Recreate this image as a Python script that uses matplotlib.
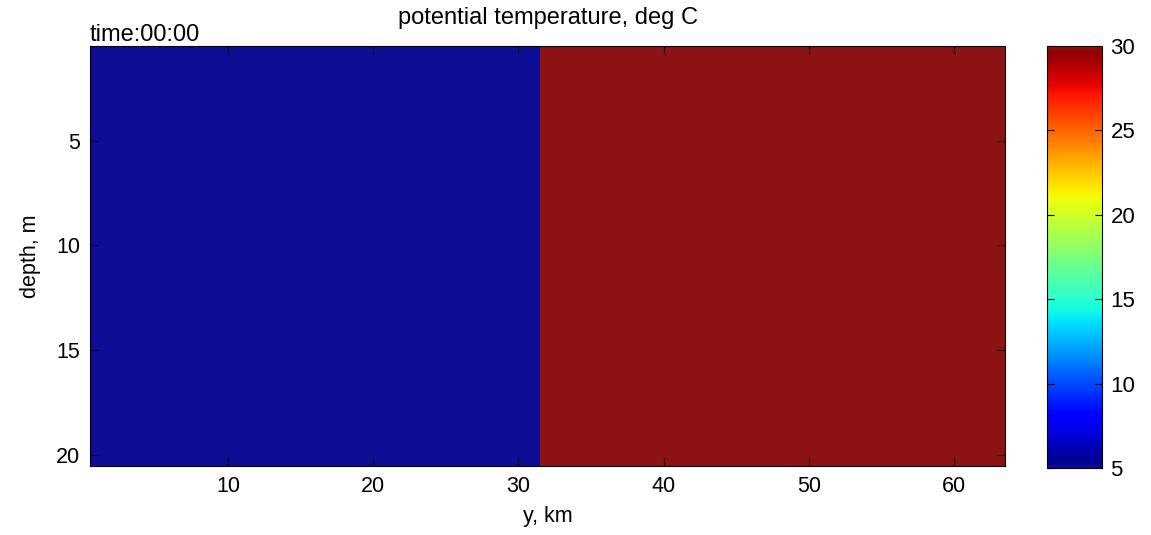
import numpy as np
import matplotlib
matplotlib.use("Agg")
from matplotlib import pyplot as plt
from matplotlib.colors import LinearSegmentedColormap

# grid and field values
y_km = np.arange(1, 64)          # 63 columns along y
depth_m = np.arange(1, 21)       # 20 levels
t_cold = 5.0
t_warm = 30.0
front_km = 31.5                  # columns left of this are cold
clim = (5, 30)

x_ticks = [10, 20, 30, 40, 50, 60]
y_ticks = [5, 10, 15, 20]
cb_ticks = [5, 10, 15, 20, 25, 30]

temp = np.where(y_km[None, :] < front_km, t_cold, t_warm) * np.ones((depth_m.size, 1))

plt.rcParams["font.family"] = ["Liberation Sans", "DejaVu Sans"]
plt.rcParams["font.size"] = 15.5

# jet as it looks in the old video frame (slightly washed out ends)
jet = plt.get_cmap("jet")(np.linspace(0, 1, 64))
jet[0, :3] = [0.05, 0.05, 0.59]
jet[-1, :3] = [0.55, 0.07, 0.08]
cmap = LinearSegmentedColormap.from_list("jet_video", jet, N=256)

fig = plt.figure(figsize=(11.51, 5.35), dpi=100)
ax = fig.add_axes([0.0782, 0.129, 0.795, 0.785])
cax = fig.add_axes([0.9097, 0.1252, 0.0478, 0.7888])

xe = np.concatenate([y_km - 0.5, [y_km[-1] + 0.5]])
ye = np.concatenate([depth_m - 0.5, [depth_m[-1] + 0.5]])
mesh = ax.pcolormesh(xe, ye, temp, cmap=cmap, vmin=clim[0], vmax=clim[1])
ax.set_xlim(xe[0], xe[-1])
ax.set_ylim(ye[-1], ye[0])
ax.set_xticks(x_ticks)
ax.set_yticks(y_ticks)
ax.tick_params(axis="x", direction="in", top=True, length=6, width=0.8, pad=7)
ax.tick_params(axis="y", direction="in", right=True, length=6, width=0.8, pad=7)
ax.set_xlabel("y, km", labelpad=7)
ax.set_ylabel("depth, m", labelpad=11)
ax.set_title("potential temperature, deg C", fontsize=17, pad=16)
ax.text(0.0, 1.0, "time:00:00", transform=ax.transAxes, ha="left",
        va="bottom", fontsize=17)

cb = fig.colorbar(mesh, cax=cax, ticks=cb_ticks)
cax.tick_params(direction="in", left=True, right=True, length=5, width=0.8,
                labelsize=16, pad=6)

fig.savefig("out.png", dpi=100)
